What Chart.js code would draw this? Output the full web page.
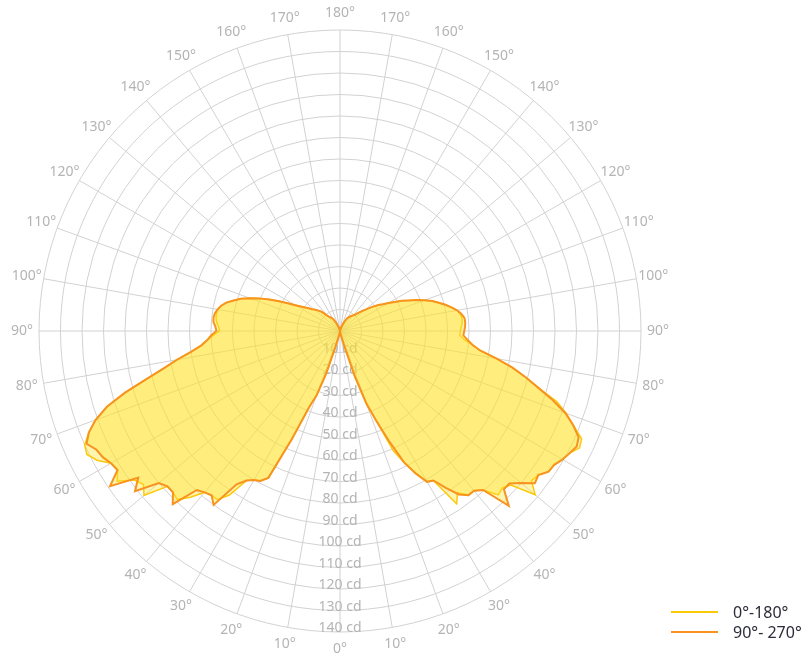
<!DOCTYPE html>
<html>
<head>
<meta charset="utf-8">
<script src="https://cdn.jsdelivr.net/npm/chart.js@4"></script>
<style>
  html, body { margin: 0; padding: 0; background: #fff; }
  #wrap { position: relative; width: 808px; height: 659px; }
  #legend { position: absolute; left: 671px; top: 602px; font: 16px "Noto Sans", sans-serif; color: #2b2b3a; }
  #legend .row { display: flex; align-items: center; height: 20px; }
  #legend .line { width: 47px; height: 2.5px; margin-right: 15px; }
</style>
</head>
<body>
<div id="wrap">
  <canvas id="chart" width="808" height="659"></canvas>
  <div id="legend"></div>
</div>
<script>
const YELLOW = '#fcc90a';
const ORANGE = '#f7931e';
const FILL = 'rgba(255, 226, 40, 0.37)';
const GRID = '#d2d2d2';
const LABEL = '#b4b4b4';

// gamma 0..180 in 2 degree steps (91 values)
const STEP = 2;
const CD_TICKS = [10, 20, 30, 40, 50, 60, 70, 80, 90, 100, 110, 120, 130, 140];

// 0°-180° plane: right half = C0, left half = C180
const C0 = [
  0, 0, 0, 0, 0, 0.5, 1.5, 3, 7, 22,
  36, 45, 61, 68, 75, 81, 82, 97, 93, 97,
  97, 99.5, 106, 105, 107, 118.5, 113, 114, 117, 117.5,
  119.5, 121, 124, 123, 117, 112, 106, 96, 89, 82,
  74, 66, 62, 58, 55.8, 56, 56.5, 57, 57, 56.5,
  55.3, 53, 50.5, 47.8, 45, 41.8, 38.5, 35, 32, 28.8,
  26, 23.5, 21.6, 19.5, 17.5, 15.5, 14, 12.5, 11, 10,
  9.5, 9, 8.5, 8, 7.5, 7, 6, 5, 4, 3,
  2, 1, 0.5, 0, 0, 0, 0, 0, 0, 0,
  0,
];
const C180 = [
  0, 0, 0, 0, 0, 0.5, 1.5, 3, 8, 21,
  32, 38, 55, 76, 79, 80, 82, 92, 97, 97,
  98, 104, 109, 108, 108, 119, 116, 118, 125, 122,
  123, 128, 131, 130, 126, 121, 114, 104, 93, 84,
  77, 70, 65, 62, 59, 56, 56.5, 57.5, 58, 58,
  57.8, 56.5, 54.5, 51.5, 48.5, 44.5, 40.5, 36, 31.5, 27.5,
  24, 21.5, 19.5, 18, 16.5, 15.5, 14.5, 13.5, 12.5, 11,
  9.5, 8.5, 8, 7.5, 7, 6.5, 5.5, 4.5, 3.5, 2.5,
  1.5, 1, 0.5, 0, 0, 0, 0, 0, 0, 0,
  0,
];

// 90°-270° plane: right half = C90, left half = C270
const C90 = [
  0, 0, 0, 0, 0, 0.5, 1.5, 3, 7, 22,
  36, 45, 56, 68, 75, 81, 82, 88, 94, 97,
  97, 99.5, 113, 106, 106, 110, 115, 114, 117, 117.5,
  119.5, 121, 122.5, 121.5, 117, 111.5, 104, 96, 89, 82,
  74, 66, 62, 59.5, 57.4, 57.8, 58.2, 58.4, 58.2, 57,
  55.3, 53, 50.5, 47.8, 45, 41.8, 38.5, 35, 32, 28.8,
  26, 23.5, 21.6, 19.5, 17.5, 15.5, 14, 12.5, 11, 10,
  9.5, 9, 8.5, 8, 7.5, 7, 6, 5, 4, 3,
  2, 1, 0.5, 0, 0, 0, 0, 0, 0, 0,
  0,
];
const C270 = [
  0, 0, 0, 0, 0, 0.5, 1.5, 3, 8, 21,
  32, 38, 55, 76, 79, 80, 82, 86, 100, 97,
  98, 99.5, 112, 108, 108, 110, 121, 116, 129, 122,
  123, 125, 126, 129, 126, 121, 114, 104, 93, 84,
  77, 70, 65, 62, 60, 57.5, 58, 59, 59.2, 58.8,
  57.8, 56.5, 54.5, 51.5, 48.5, 44.5, 40.5, 36, 31.5, 27.5,
  24, 21.5, 19.5, 18, 16.5, 15.5, 14.5, 13.5, 12.5, 11,
  9.5, 8.5, 8, 7.5, 7, 6.5, 5.5, 4.5, 3.5, 2.5,
  1.5, 1, 0.5, 0, 0, 0, 0, 0, 0, 0,
  0,
];

const SERIES = [
  { name: '0°-180°', right: C0, left: C180, color: YELLOW, width: 1.5, order: 1 },
  { name: '90°- 270°', right: C90, left: C270, color: ORANGE, width: 2, order: 0 },
];

// radar runs clockwise from the top: top = 180°, right side down to 0° at the bottom, then back up the left side
const N = 360 / STEP;
const HALF = N / 2;
const labels = [];
for (let i = 0; i < N; i++) {
  const gamma = i <= HALF ? 180 - i * STEP : i * STEP - 180;
  labels.push((i * STEP) % 10 === 0 ? gamma + '°' : '');
}

function loop(right, left) {
  const out = [];
  for (let i = 0; i < N; i++) out.push(i <= HALF ? right[HALF - i] : left[i - HALF]);
  return out;
}

// angle labels + cd labels, placed from the radial scale
const polarText = {
  id: 'polarText',
  beforeDatasetsDraw(chart) {
    const r = chart.scales.r;
    const ctx = chart.ctx;
    ctx.save();
    ctx.font = '14px "Noto Sans", sans-serif';
    ctx.fillStyle = LABEL;
    ctx.textAlign = 'center';
    ctx.textBaseline = 'middle';
    for (const v of CD_TICKS) {
      const d = r.getDistanceFromCenterForValue(v);
      ctx.fillText(v + ' cd', r.xCenter, r.yCenter + d - 3.5);
    }
    const out = r.drawingArea + 17;
    chart.data.labels.forEach((lab, i) => {
      if (!lab) return;
      const p = r.getPointPosition(i, out);
      ctx.fillText(lab, p.x, p.y);
    });
    ctx.restore();
  },
};

new Chart(document.getElementById('chart'), {
  type: 'radar',
  data: {
    labels,
    datasets: SERIES.map((s) => ({
      label: s.name,
      data: loop(s.right, s.left),
      borderColor: s.color,
      borderWidth: s.width,
      backgroundColor: FILL,
      fill: true,
      pointRadius: 0,
      tension: 0,
      order: s.order,
    })),
  },
  options: {
    responsive: false,
    animation: false,
    events: [],
    layout: { padding: { top: 30, bottom: 27, left: 0, right: 128 } },
    scales: {
      r: {
        min: 0,
        max: 140,
        ticks: { display: false, stepSize: 10 },
        grid: { circular: true, color: GRID, lineWidth: 1 },
        angleLines: { color: GRID, lineWidth: (c) => (c.index % 5 === 0 ? 1 : 0) },
        pointLabels: { display: false },
      },
    },
    plugins: { legend: { display: false }, tooltip: { enabled: false } },
  },
  plugins: [polarText],
});

// legend, bottom right
document.getElementById('legend').innerHTML = SERIES.map((s) => `
  <div class="row"><div class="line" style="background:${s.color}"></div><span>${s.name}</span></div>`).join('');
</script>
</body>
</html>
